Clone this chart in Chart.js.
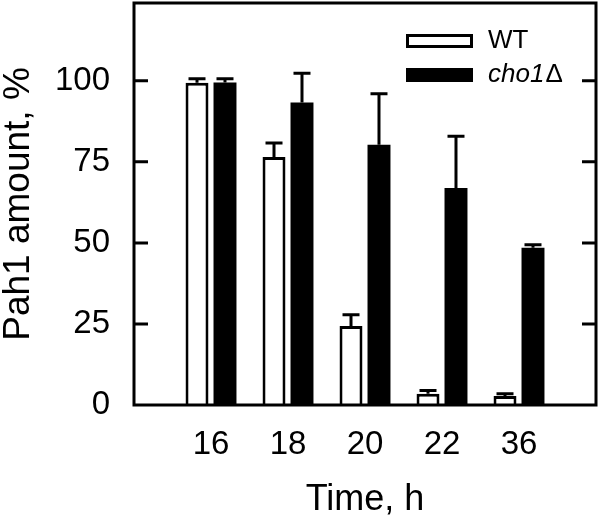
<!DOCTYPE html>
<html>
<head>
<meta charset="utf-8">
<script src="https://cdn.jsdelivr.net/npm/chart.js@4.4.1/dist/chart.umd.min.js"></script>
<style>
  html,body{margin:0;padding:0;background:#fff;}
  #wrap{width:601px;height:522px;}
</style>
</head>
<body>
<div id="wrap"><canvas id="chart" width="601" height="522"></canvas></div>
<script>
// dados
const times = ['16', '18', '20', '22', '36'];
const wtValues = [99.4, 76.5, 24.4, 3.5, 2.8];
const wtErrors = [1.2, 4.3, 3.4, 1.0, 0.7];
const choValues = [99.5, 93.3, 80.3, 66.9, 48.5];
const choErrors = [1.1, 9.0, 15.7, 16.0, 0.9];
const yTicks = [0, 25, 50, 75, 100];
const seriesNames = ['WT', 'cho1'];

const FONT = '"Liberation Sans", Arial, Helvetica, sans-serif';

// categorias vazias nas pontas para o eixo ir de borda a borda
const labels = [''].concat(times, ['']);
const pad = arr => [null].concat(arr, [null]);

// barras de erro (só para cima)
const errorBars = {
  id: 'errorBars',
  afterDatasetsDraw(chart){
    const ctx = chart.ctx;
    const y = chart.scales.y;
    const errs = [wtErrors, choErrors];
    ctx.save();
    ctx.strokeStyle = '#000';
    ctx.lineWidth = 3;
    ctx.lineCap = 'butt';
    chart.data.datasets.forEach((ds, di) => {
      const meta = chart.getDatasetMeta(di);
      meta.data.forEach((bar, i) => {
        const v = ds.data[i];
        if(v === null) return;
        const e = errs[di][i - 1];
        const top = y.getPixelForValue(v + e);
        const base = y.getPixelForValue(v);
        ctx.beginPath();
        ctx.moveTo(bar.x, base);
        ctx.lineTo(bar.x, top);
        ctx.moveTo(bar.x - 8.5, top);
        ctx.lineTo(bar.x + 8.5, top);
        ctx.stroke();
      });
    });
    ctx.restore();
  }
};

// moldura com ticks para dentro + legenda
const frame = {
  id: 'frame',
  afterDraw(chart){
    const ctx = chart.ctx;
    const a = chart.chartArea;
    const y = chart.scales.y;
    ctx.save();
    ctx.strokeStyle = '#000';
    ctx.lineWidth = 3;
    ctx.strokeRect(a.left, a.top, a.right - a.left, a.bottom - a.top);
    ctx.beginPath();
    yTicks.forEach(v => {
      if(v === 0) return;
      const py = y.getPixelForValue(v);
      ctx.moveTo(a.left, py); ctx.lineTo(a.left + 14, py);
      ctx.moveTo(a.right, py); ctx.lineTo(a.right - 14, py);
    });
    ctx.stroke();

    // legenda
    const bx = a.right - 190, bw = 67, bh = 14;
    const rows = [a.top + 31, a.top + 65];
    ctx.lineWidth = 3;
    ctx.fillStyle = '#fff';
    ctx.fillRect(bx, rows[0], bw, bh);
    ctx.strokeRect(bx + 1.5, rows[0] + 1.5, bw - 3, bh - 3);
    ctx.fillStyle = '#000';
    ctx.fillRect(bx, rows[1], bw, bh);
    ctx.textBaseline = 'middle';
    ctx.textAlign = 'left';
    const tx = bx + 82;
    ctx.font = '26px ' + FONT;
    ctx.fillText(seriesNames[0], tx, rows[0] + bh / 2);
    ctx.font = 'italic 26px ' + FONT;
    ctx.fillText(seriesNames[1], tx, rows[1] + bh / 2);
    const w = ctx.measureText(seriesNames[1]).width;
    ctx.font = '26px ' + FONT;
    ctx.fillText('\u0394', tx + w + 1, rows[1] + bh / 2);
    ctx.restore();
  }
};

new Chart(document.getElementById('chart').getContext('2d'), {
  type: 'bar',
  data: {
    labels: labels,
    datasets: [
      {label: seriesNames[0], data: pad(wtValues), backgroundColor: '#fff', borderColor: '#000', borderWidth: 3},
      {label: seriesNames[1], data: pad(choValues), backgroundColor: '#000', borderColor: '#000', borderWidth: 0}
    ]
  },
  options: {
    responsive: false,
    animation: false,
    categoryPercentage: 0.727,
    barPercentage: 0.82,
    layout: {padding: {top: 3, right: 5, left: 0, bottom: 0}, autoPadding: false},
    plugins: {legend: {display: false}, tooltip: {enabled: false}},
    scales: {
      x: {
        offset: false,
        grid: {display: false, drawTicks: false},
        border: {display: false},
        ticks: {color: '#000', font: {family: FONT, size: 33}, padding: 20, maxRotation: 0, autoSkip: false},
        title: {display: true, text: 'Time, h', color: '#000', font: {family: FONT, size: 36, lineHeight: 1.2}, padding: 0},
        afterFit(s){ s.height = 117; s.paddingLeft = 0; s.paddingRight = 0; }
      },
      y: {
        min: 0,
        max: 124,
        grid: {display: false, drawTicks: false},
        border: {display: false},
        afterBuildTicks(s){ s.ticks = yTicks.map(v => ({value: v})); },
        ticks: {color: '#000', font: {family: FONT, size: 33}, padding: 24},
        title: {display: true, text: 'Pah1 amount, %', color: '#000', font: {family: FONT, size: 37, lineHeight: 1}, padding: 0},
        afterFit(s){ s.width = 134; s.paddingTop = 0; s.paddingBottom = 0; }
      }
    }
  },
  plugins: [errorBars, frame]
});
</script>
</body>
</html>
